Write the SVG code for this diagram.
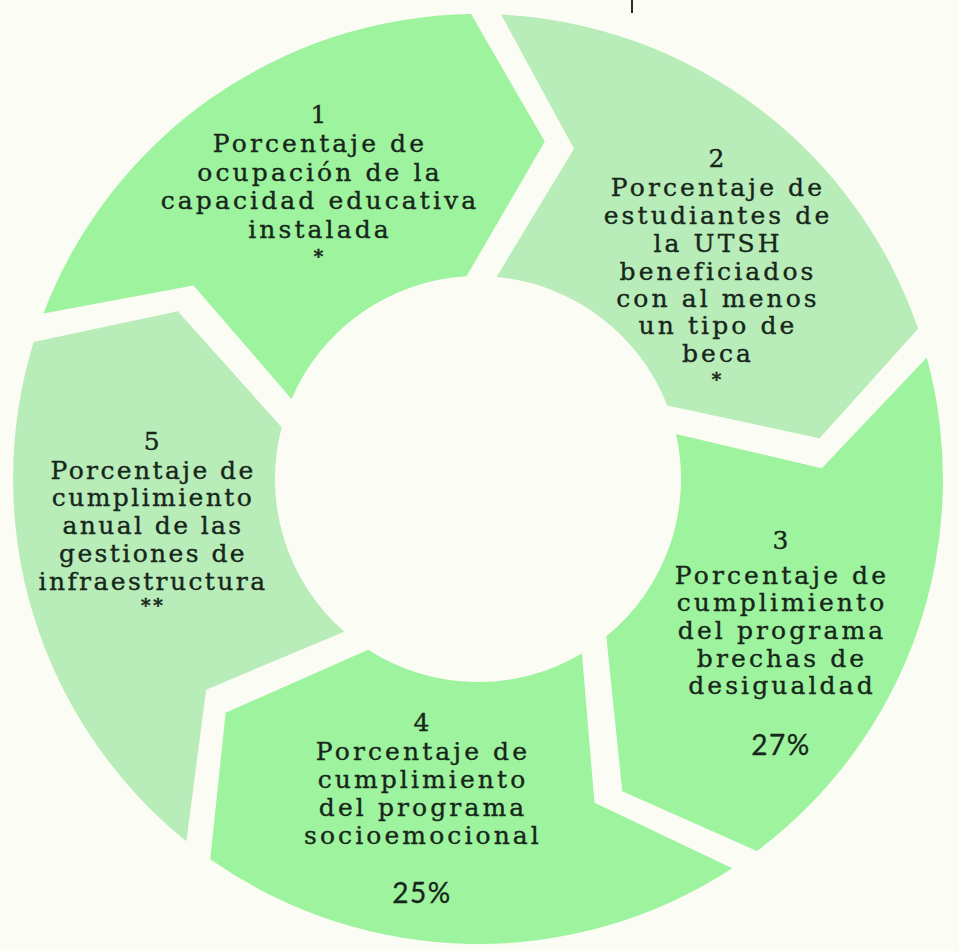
<svg xmlns="http://www.w3.org/2000/svg" width="959" height="951" viewBox="0 0 959 951">
<style>
.bg{fill:#fbfdf4}
.s1{fill:#9ef39e}
.s2{fill:#b8ecb8}
.t{font-family:"DejaVu Serif","Liberation Serif",serif;font-size:25px;letter-spacing:3.1px;fill:#17261a;stroke:#17261a;stroke-width:0.35;text-anchor:middle}
.n5{letter-spacing:2.4px}
.p{font-family:Lato,"Liberation Sans",sans-serif;font-size:28px;letter-spacing:1.5px;fill:#17261a;stroke:#17261a;stroke-width:0.3;text-anchor:middle}
.a{font-size:19px;font-weight:bold}
</style>
<rect class="bg" x="0" y="0" width="959" height="951"/>
<rect x="631" y="0" width="2" height="13" fill="#2a2a2a"/>
<g id="node1">
<path class="s1" d="M291.5,398.9 L193.5,285.6 L43.4,313.5 A465,465 0 0 1 471.1,14.1 L544.8,141.6 L466.5,276.3 A203,203 0 0 0 291.5,398.9 Z"/>
<text class="t"><tspan x="320" y="123">1</tspan><tspan x="320" y="152">Porcentaje de</tspan><tspan x="320" y="181">ocupación de la</tspan><tspan x="320" y="209">capacidad educativa</tspan><tspan x="320" y="238">instalada</tspan><tspan class="a" x="320" y="263">*</tspan></text>
</g>
<g id="node2">
<path class="s2" d="M496.5,276.9 L574.0,148.7 L501.1,14.6 A465,465 0 0 1 918.1,328.8 L819.6,438.3 L667.2,405.5 A203,203 0 0 0 496.5,276.9 Z"/>
<text class="t"><tspan x="718" y="167">2</tspan><tspan x="718" y="196">Porcentaje de</tspan><tspan x="718" y="224">estudiantes de</tspan><tspan x="718" y="252">la UTSH</tspan><tspan x="718" y="280">beneficiados</tspan><tspan x="718" y="307">con al menos</tspan><tspan x="718" y="334">un tipo de</tspan><tspan x="718" y="362">beca</tspan><tspan class="a" x="718" y="386">*</tspan></text>
</g>
<g id="node3">
<path class="s1" d="M676.0,434.1 L821.8,468.2 L926.8,357.5 A465,465 0 0 1 756.9,851.1 L622.3,791.3 L606.3,636.3 A203,203 0 0 0 676.0,434.1 Z"/>
<text class="t"><tspan x="782" y="549">3</tspan><tspan x="782" y="584">Porcentaje de</tspan><tspan x="782" y="611">cumplimiento</tspan><tspan x="782" y="639">del programa</tspan><tspan x="782" y="667">brechas de</tspan><tspan x="782" y="694">desigualdad</tspan></text>
<text class="p" x="781" y="755">27%</text>
</g>
<g id="node4">
<path class="s1" d="M581.9,653.4 L594.5,802.7 L732.3,868.3 A465,465 0 0 1 210.3,859.2 L225.6,712.7 L368.1,649.7 A203,203 0 0 0 581.9,653.4 Z"/>
<text class="t"><tspan x="423" y="731">4</tspan><tspan x="423" y="760">Porcentaje de</tspan><tspan x="423" y="788">cumplimiento</tspan><tspan x="423" y="816">del programa</tspan><tspan x="423" y="844">socioemocional</tspan></text>
<text class="p" x="422" y="903">25%</text>
</g>
<g id="node5">
<path class="s2" d="M344.2,631.7 L206.1,689.7 L186.4,841.2 A465,465 0 0 1 33.7,341.9 L177.7,311.2 L281.7,427.3 A203,203 0 0 0 344.2,631.7 Z"/>
<text class="t n5"><tspan x="153" y="450">5</tspan><tspan x="153" y="479">Porcentaje de</tspan><tspan x="153" y="506">cumplimiento</tspan><tspan x="153" y="534">anual de las</tspan><tspan x="153" y="562">gestiones de</tspan><tspan x="153" y="590">infraestructura</tspan><tspan class="a" x="153" y="612">**</tspan></text>
</g>
<g id="connectors"></g>
</svg>
